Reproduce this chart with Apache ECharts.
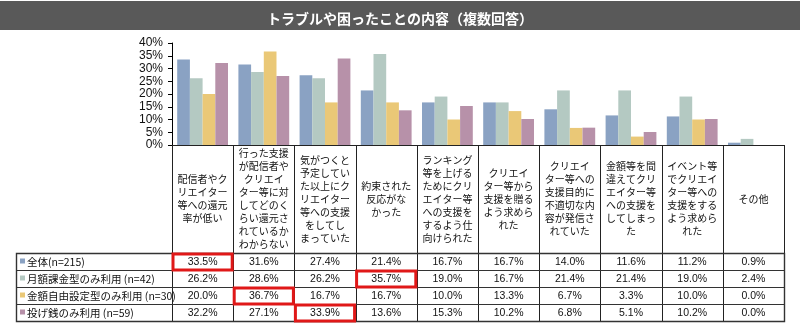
<!DOCTYPE html>
<html>
<head>
<meta charset="utf-8">
<script src="https://cdn.jsdelivr.net/npm/echarts@6/dist/echarts.min.js"></script>
<style>
  html, body { margin: 0; padding: 0; background: #fff; }
  #chart { width: 800px; height: 327px; }
</style>
</head>
<body>
<div id="chart"></div>
<script>
// Answer categories (line breaks as printed in the table header)
const categories = [
  '配信者やク\nリエイター\n等への還元\n率が低い',
  '行った支援\nが配信者や\nクリエイ\nター等に対\nしてどのく\nらい還元さ\nれているか\nわからない',
  '気がつくと\n予定してい\nた以上にク\nリエイター\n等への支援\nをしてし\nまっていた',
  '約束された\n反応がな\nかった',
  'ランキング\n等を上げる\nためにクリ\nエイター等\nへの支援を\nするよう仕\n向けられた',
  'クリエイ\nター等から\n支援を贈る\nよう求めら\nれた',
  'クリエイ\nター等への\n支援目的に\n不適切な内\n容が発信さ\nれていた',
  '金額等を間\n違えてクリ\nエイター等\nへの支援を\nしてしまっ\nた',
  'イベント等\nでクリエイ\nター等への\n支援をする\nよう求めら\nれた',
  'その他'
];

// Respondent groups
const groupNames = [
  '全体(n=215)',
  '月額課金型のみ利用 (n=42)',
  '金額自由設定型のみ利用 (n=30)',
  '投げ銭のみ利用 (n=59)'
];

// Share of respondents (%)
const totalValues   = [33.5, 31.6, 27.4, 21.4, 16.7, 16.7, 14.0, 11.6, 11.2, 0.9];
const monthlyValues = [26.2, 28.6, 26.2, 35.7, 19.0, 16.7, 21.4, 21.4, 19.0, 2.4];
const freeValues    = [20.0, 36.7, 16.7, 16.7, 10.0, 13.3, 6.7, 3.3, 10.0, 0.0];
const tipValues     = [32.2, 27.1, 33.9, 13.6, 15.3, 10.2, 6.8, 5.1, 10.2, 0.0];
const groupValues = [totalValues, monthlyValues, freeValues, tipValues];

const colors = ['#8aa2c3', '#b4c9c2', '#eac877', '#b791a9'];

const yTicks = { min: 0, max: 40, interval: 5 };

const FONT = '"Liberation Sans", "Noto Sans CJK JP", sans-serif';
const JFONT = '"Noto Sans CJK JP", "Liberation Sans", sans-serif';

const chart = echarts.init(document.getElementById('chart'), null, { renderer: 'canvas' });

const headerH = 108;   // height of the category-label block under the axis
const rowH = 17;       // height of each value row
const labelLeft = 16;  // left edge of the group-name column

const option = {
  animation: false,
  title: {
    text: 'トラブルや困ったことの内容（複数回答）',
    left: 'center',
    top: 7,
    z: 10,
    textStyle: { color: '#ffffff', fontSize: 14, fontWeight: 'bold', fontFamily: JFONT }
  },
  grid: { left: 172, right: 16, top: 43, bottom: 182 },
  xAxis: {
    type: 'category',
    data: categories,
    axisLine: { lineStyle: { color: '#000', width: 1 } },
    axisTick: { show: false },
    axisLabel: { show: false }
  },
  yAxis: {
    type: 'value',
    min: yTicks.min,
    max: yTicks.max,
    interval: yTicks.interval,
    axisLine: { show: true, lineStyle: { color: '#000', width: 1 } },
    axisTick: { show: true, length: 4, lineStyle: { color: '#000' } },
    splitLine: { show: false },
    axisLabel: {
      formatter: '{value}%',
      color: '#111',
      fontSize: 12,
      margin: 9,
      fontFamily: FONT
    }
  },
  series: groupValues.map((vals, i) => ({
    name: groupNames[i],
    type: 'bar',
    data: vals,
    barGap: '0%',
    barCategoryGap: '17%',
    itemStyle: { color: colors[i] }
  }))
};

chart.setOption(option);

// Build the category / value table beneath the plot from the axis scale
const c0 = chart.convertToPixel({ xAxisIndex: 0 }, 0);
const c1 = chart.convertToPixel({ xAxisIndex: 0 }, 1);
const band = c1 - c0;
const axisY = chart.convertToPixel({ yAxisIndex: 0 }, 0);
const colLeft = c0 - band / 2;
const colRight = colLeft + band * categories.length;
const tableTop = axisY + headerH;
const tableBottom = tableTop + rowH * groupNames.length;

const g = [];

// title band
g.push({
  type: 'rect', z: 0,
  shape: { x: 0, y: 1, width: 800, height: 29 },
  style: { fill: '#595959' }
});

// category headers
categories.forEach((cat, j) => {
  const cx = chart.convertToPixel({ xAxisIndex: 0 }, j);
  g.push({
    type: 'text', z: 5,
    x: cx, y: axisY + headerH / 2,
    style: {
      text: cat, align: 'center', verticalAlign: 'middle',
      fontSize: 10, lineHeight: 13, fill: '#111', fontFamily: JFONT
    }
  });
});

// vertical column lines through header and value rows
for (let j = 0; j <= categories.length; j++) {
  const x = Math.round(colLeft + band * j) + 0.5;
  g.push({
    type: 'line', z: 4,
    shape: { x1: x, y1: axisY, x2: x, y2: tableBottom },
    style: { stroke: '#222', lineWidth: 1 }
  });
}

// top line of the header block
g.push({
  type: 'line', z: 4,
  shape: { x1: colLeft, y1: axisY + 0.5, x2: colRight, y2: axisY + 0.5 },
  style: { stroke: '#222', lineWidth: 1 }
});

// value rows
groupNames.forEach((name, i) => {
  const y = tableTop + rowH * i;
  g.push({
    type: 'line', z: 4,
    shape: { x1: labelLeft, y1: Math.round(y) + 0.5, x2: colRight, y2: Math.round(y) + 0.5 },
    style: { stroke: '#333', lineWidth: 1.2 }
  });
  g.push({
    type: 'rect', z: 5,
    shape: { x: labelLeft + 4, y: y + rowH / 2 - 3, width: 5, height: 5 },
    style: { fill: colors[i] }
  });
  g.push({
    type: 'text', z: 5,
    x: labelLeft + 11, y: y + rowH / 2 + 0.5,
    style: {
      text: name, align: 'left', verticalAlign: 'middle',
      fontSize: 10.5, fill: '#111', fontFamily: JFONT
    }
  });
  const vals = groupValues[i];
  let maxIdx = 0;
  vals.forEach((v, j) => { if (v > vals[maxIdx]) maxIdx = j; });
  vals.forEach((v, j) => {
    const cx = chart.convertToPixel({ xAxisIndex: 0 }, j);
    g.push({
      type: 'text', z: 5,
      x: cx, y: y + rowH / 2 + 0.5,
      style: {
        text: v.toFixed(1) + '%', align: 'center', verticalAlign: 'middle',
        fontSize: 10.5, fill: '#111', fontFamily: FONT
      }
    });
  });
  // highlight the largest share in each group
  g.push({
    type: 'rect', z: 6,
    shape: { x: colLeft + band * maxIdx + 1, y: y + 1, width: band - 2, height: rowH - 1 },
    style: { fill: 'none', stroke: '#e01818', lineWidth: 3 }
  });
});

// outer border of the value table
g.push({
  type: 'rect', z: 4,
  shape: { x: labelLeft + 0.5, y: Math.round(tableTop) + 0.5, width: colRight - labelLeft, height: rowH * groupNames.length },
  style: { fill: 'none', stroke: '#333', lineWidth: 1.4 }
});

chart.setOption({ graphic: { elements: g } });
</script>
</body>
</html>
